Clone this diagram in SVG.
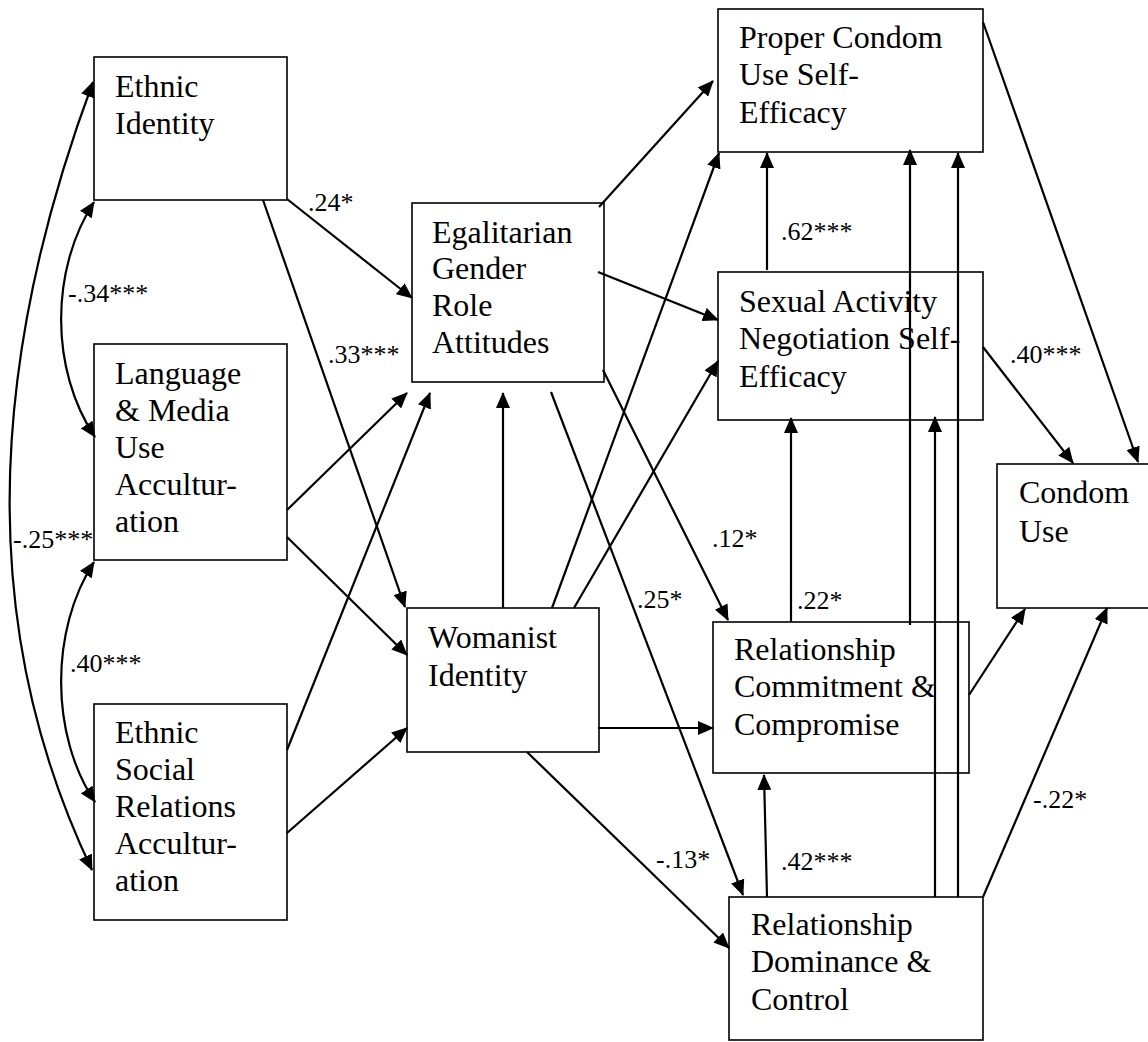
<svg xmlns="http://www.w3.org/2000/svg" width="1148" height="1042" viewBox="0 0 1148 1042" font-family="Liberation Serif, Times New Roman, serif">
<defs>
<marker id="ah" markerUnits="userSpaceOnUse" markerWidth="16" markerHeight="14" viewBox="0 0 16 14" refX="15" refY="7" orient="auto-start-reverse">
<path d="M0,0 L16,7 L0,14 z" fill="#000"/>
</marker>
<style>
.box{fill:none;stroke:#000;stroke-width:1.6}
.t{font-size:32px;fill:#000}
.lb{font-size:26px;fill:#000}
.c{fill:none;stroke:#000;stroke-width:2.2;marker-end:url(#ah)}
.cc{fill:none;stroke:#000;stroke-width:2.2;marker-end:url(#ah);marker-start:url(#ah)}
</style>
</defs>
<rect width="1148" height="1042" fill="#fff"/>

<g id="connectors">
<path class="cc" d="M94,202 C50,270 50,370 95,437"/>
<path class="cc" d="M94,562 C50,630 50,735 95,802"/>
<path class="cc" d="M93,82 C-18,380 -18,640 92,870"/>
<path class="c" d="M287,199 L412,298"/>
<path class="c" d="M263,200 L405,607"/>
<path class="c" d="M287,510 L407,393"/>
<path class="c" d="M287,537 L407,655"/>
<path class="c" d="M287,750 L430,393"/>
<path class="c" d="M287,833 L407,728"/>
<path class="c" d="M503,608 L503,393"/>
<path class="c" d="M552,608 L719,153"/>
<path class="c" d="M574,608 L718,361"/>
<path class="c" d="M598,728 L713,728"/>
<path class="c" d="M527,752 L729,948"/>
<path class="c" d="M599,207 L713,81"/>
<path class="c" d="M598,272 L718,320"/>
<path class="c" d="M603,370 L728,620"/>
<path class="c" d="M551,392 L743,895"/>
<path class="c" d="M767,270 L767,153"/>
<path class="c" d="M791,622 L791,418"/>
<path class="c" d="M910,625 L910,150"/>
<path class="c" d="M935,897 L935,417"/>
<path class="c" d="M958,897 L958,153"/>
<path class="c" d="M969,695 L1025,609"/>
<path class="c" d="M983,897 L1107,608"/>
<path class="c" d="M983,347 L1073,463"/>
<path class="c" d="M983,22 L1138,462"/>
<path class="c" d="M767,897 L764,775"/>
</g>

<g id="labels">
<text class="lb" x="308" y="211">.24*</text>
<text class="lb" x="68" y="302">-.34***</text>
<text class="lb" x="328" y="363">.33***</text>
<text class="lb" x="13" y="548">-.25***</text>
<text class="lb" x="70" y="672">.40***</text>
<text class="lb" x="712" y="547">.12*</text>
<text class="lb" x="637" y="608">.25*</text>
<text class="lb" x="781" y="240">.62***</text>
<text class="lb" x="1010" y="363">.40***</text>
<text class="lb" x="797" y="609">.22*</text>
<text class="lb" x="781" y="870">.42***</text>
<text class="lb" x="1033" y="808">-.22*</text>
<text class="lb" x="656" y="868">-.13*</text>
</g>

<g id="ethnic-identity">
<rect class="box" x="94" y="57" width="193" height="143"/>
<text class="t" x="115" y="97">Ethnic</text>
<text class="t" x="115" y="134">Identity</text>
</g>
<g id="language-media">
<rect class="box" x="94" y="344" width="193" height="216"/>
<text class="t" x="115" y="384">Language</text>
<text class="t" x="115" y="421">&amp; Media</text>
<text class="t" x="115" y="458">Use</text>
<text class="t" x="115" y="495">Accultur-</text>
<text class="t" x="115" y="532">ation</text>
</g>
<g id="ethnic-social">
<rect class="box" x="94" y="704" width="193" height="216"/>
<text class="t" x="115" y="743">Ethnic</text>
<text class="t" x="115" y="780">Social</text>
<text class="t" x="115" y="817">Relations</text>
<text class="t" x="115" y="854">Accultur-</text>
<text class="t" x="115" y="891">ation</text>
</g>
<g id="egalitarian">
<rect class="box" x="412" y="203" width="192" height="179"/>
<text class="t" x="432" y="243">Egalitarian</text>
<text class="t" x="432" y="279">Gender</text>
<text class="t" x="432" y="316">Role</text>
<text class="t" x="432" y="353">Attitudes</text>
</g>
<g id="womanist">
<rect class="box" x="407" y="608" width="192" height="144"/>
<text class="t" x="428" y="648">Womanist</text>
<text class="t" x="428" y="686">Identity</text>
</g>
<g id="proper-condom">
<rect class="box" x="718" y="9" width="265" height="143"/>
<text class="t" x="739" y="48">Proper Condom</text>
<text class="t" x="739" y="85">Use Self-</text>
<text class="t" x="739" y="123">Efficacy</text>
</g>
<g id="sexual-activity">
<rect class="box" x="718" y="272" width="265" height="148"/>
<text class="t" x="739" y="312">Sexual Activity</text>
<text class="t" x="739" y="349">Negotiation Self-</text>
<text class="t" x="739" y="387">Efficacy</text>
</g>
<g id="condom-use">
<rect class="box" x="997" y="464" width="160" height="144"/>
<text class="t" x="1019" y="503">Condom</text>
<text class="t" x="1019" y="542">Use</text>
</g>
<g id="rel-commitment">
<rect class="box" x="713" y="622" width="256" height="151"/>
<text class="t" x="734" y="660">Relationship</text>
<text class="t" x="734" y="697">Commitment &amp;</text>
<text class="t" x="734" y="735">Compromise</text>
</g>
<g id="rel-dominance">
<rect class="box" x="729" y="897" width="254" height="143"/>
<text class="t" x="751" y="935">Relationship</text>
<text class="t" x="751" y="972">Dominance &amp;</text>
<text class="t" x="751" y="1010">Control</text>
</g>
</svg>
